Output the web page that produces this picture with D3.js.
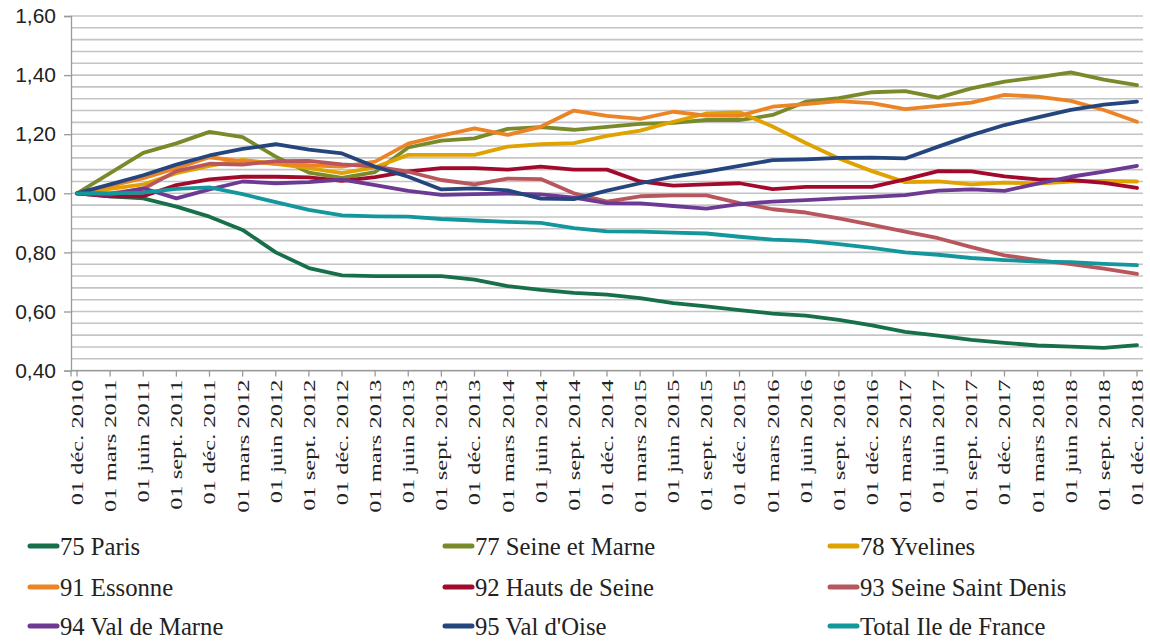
<!DOCTYPE html>
<html>
<head>
<meta charset="utf-8">
<script src="https://cdn.jsdelivr.net/npm/d3@7"></script>
<style>
  body { margin: 0; background: #fff; }
  svg { display: block; }
</style>
</head>
<body>
<div id="chart"></div>
<script>
// quarterly dates, dec 2010 -> dec 2018
const months = ["déc.", "mars", "juin", "sept."];
const dates = [];
for (let i = 0; i < 33; i++) {
    const m = months[i % 4];
    const y = 2010 + Math.floor((i + 3) / 4);
    dates.push("01 " + m + " " + y);
}

const seriesNames = ["75 Paris", "77 Seine et Marne", "78 Yvelines",
    "91 Essonne", "92 Hauts de Seine", "93 Seine Saint Denis",
    "94 Val de Marne", "95 Val d'Oise", "Total Ile de France"];
const seriesColors = ["#17704a", "#798a2b", "#dfa200", "#ec8425", "#a20a2d",
    "#b8565e", "#6c3a93", "#25457e", "#13979c"];

const paris = [1.00, 0.99, 0.983, 0.955, 0.921, 0.876, 0.80, 0.747, 0.722, 0.72, 0.72, 0.72, 0.708, 0.686, 0.673, 0.663, 0.657, 0.645, 0.628, 0.617, 0.605, 0.593, 0.586, 0.572, 0.553, 0.531, 0.518, 0.504, 0.494, 0.485, 0.481, 0.477, 0.486];
const seineMarne = [1.00, 1.068, 1.137, 1.169, 1.208, 1.19, 1.124, 1.07, 1.052, 1.072, 1.155, 1.178, 1.186, 1.218, 1.224, 1.215, 1.225, 1.235, 1.238, 1.248, 1.248, 1.265, 1.31, 1.322, 1.342, 1.346, 1.324, 1.355, 1.378, 1.392, 1.409, 1.385, 1.366];
const yvelines = [1.00, 1.015, 1.03, 1.068, 1.093, 1.113, 1.10, 1.085, 1.068, 1.088, 1.13, 1.13, 1.13, 1.158, 1.166, 1.17, 1.194, 1.212, 1.242, 1.27, 1.274, 1.226, 1.17, 1.118, 1.075, 1.038, 1.04, 1.03, 1.036, 1.033, 1.04, 1.042, 1.04];
const essonne = [1.00, 1.025, 1.051, 1.085, 1.122, 1.108, 1.10, 1.095, 1.09, 1.107, 1.168, 1.195, 1.22, 1.198, 1.225, 1.28, 1.262, 1.252, 1.276, 1.263, 1.262, 1.293, 1.302, 1.312, 1.305, 1.285, 1.296, 1.307, 1.333, 1.327, 1.313, 1.282, 1.242];
const hautsSeine = [1.00, 0.99, 0.99, 1.028, 1.047, 1.056, 1.056, 1.054, 1.042, 1.055, 1.074, 1.085, 1.085, 1.08, 1.09, 1.08, 1.08, 1.04, 1.026, 1.03, 1.034, 1.014, 1.022, 1.022, 1.022, 1.047, 1.075, 1.074, 1.057, 1.047, 1.045, 1.035, 1.018];
const seineStDenis = [1.00, 1.00, 1.015, 1.075, 1.10, 1.097, 1.109, 1.11, 1.098, 1.09, 1.073, 1.045, 1.03, 1.05, 1.048, 1.0, 0.972, 0.99, 0.993, 0.993, 0.967, 0.946, 0.935, 0.915, 0.893, 0.87, 0.848, 0.818, 0.79, 0.774, 0.76, 0.745, 0.727];
const valMarne = [1.00, 0.995, 1.017, 0.983, 1.013, 1.04, 1.034, 1.038, 1.046, 1.028, 1.008, 0.995, 0.997, 0.999, 0.996, 0.985, 0.967, 0.966, 0.957, 0.948, 0.963, 0.972, 0.977, 0.983, 0.988, 0.994, 1.009, 1.013, 1.008, 1.033, 1.056, 1.073, 1.093];
const valOise = [1.00, 1.03, 1.061, 1.097, 1.128, 1.15, 1.166, 1.148, 1.135, 1.09, 1.056, 1.013, 1.017, 1.01, 0.982, 0.98, 1.009, 1.034, 1.056, 1.073, 1.093, 1.112, 1.115, 1.12, 1.121, 1.118, 1.158, 1.197, 1.231, 1.257, 1.282, 1.30, 1.31];
const totalIdf = [1.00, 1.0, 1.002, 1.015, 1.02, 0.997, 0.97, 0.944, 0.925, 0.922, 0.921, 0.913, 0.908, 0.903, 0.9, 0.882, 0.871, 0.87, 0.867, 0.864, 0.853, 0.843, 0.839, 0.828, 0.815, 0.80, 0.792, 0.781, 0.774, 0.769, 0.767, 0.761, 0.757];

const allSeries = [paris, seineMarne, yvelines, essonne, hautsSeine,
    seineStDenis, valMarne, valOise, totalIdf];

const yMin = 0.40, yMax = 1.60;
const gridStep = 0.04, labelStep = 0.20;

const width = 1150, height = 641;
const axisX = 71, plotRight = 1143, plotTop = 16, plotBottom = 370.6;

const svg = d3.select("#chart").append("svg")
    .attr("width", width)
    .attr("height", height);

const x = d3.scalePoint()
    .domain(dates)
    .range([77, 1137]);

const y = d3.scaleLinear()
    .domain([yMin, yMax])
    .range([plotBottom, plotTop]);

// gridlines
const gridVals = d3.range(0, Math.round((yMax - yMin) / gridStep) + 1).map(i => yMin + i * gridStep);
svg.append("g").selectAll("line").data(gridVals).enter().append("line")
    .attr("x1", axisX).attr("x2", plotRight)
    .attr("y1", d => y(d)).attr("y2", d => y(d))
    .attr("stroke", "#c4c4c4")
    .attr("stroke-width", 1.6);

// y axis
const labelVals = d3.range(0, Math.round((yMax - yMin) / labelStep) + 1).map(i => yMin + i * labelStep);
const yAxis = d3.axisLeft(y)
    .tickValues(labelVals)
    .tickSize(7)
    .tickPadding(8)
    .tickFormat(d => d3.format(".2f")(d).replace(".", ","));
const gy = svg.append("g")
    .attr("transform", `translate(${axisX},0)`)
    .call(yAxis);
gy.select(".domain").attr("stroke", "#9a9a9a").attr("stroke-width", 1.3);
gy.selectAll(".tick line").attr("stroke", "#9a9a9a").attr("stroke-width", 1.3);
gy.selectAll(".tick text")
    .attr("font-family", "'Liberation Sans', Arial, sans-serif")
    .attr("font-size", 21)
    .attr("fill", "#222");

// x axis line + ticks
svg.append("line")
    .attr("x1", axisX).attr("x2", plotRight)
    .attr("y1", plotBottom).attr("y2", plotBottom)
    .attr("stroke", "#9a9a9a").attr("stroke-width", 1.3);
svg.append("g").selectAll("line").data(dates).enter().append("line")
    .attr("x1", d => x(d)).attr("x2", d => x(d))
    .attr("y1", plotBottom).attr("y2", plotBottom + 6)
    .attr("stroke", "#9a9a9a").attr("stroke-width", 1.3);
svg.append("line")
    .attr("x1", axisX).attr("x2", axisX)
    .attr("y1", plotBottom).attr("y2", plotBottom + 6)
    .attr("stroke", "#9a9a9a").attr("stroke-width", 1.3);

svg.append("g").selectAll("text").data(dates).enter().append("text")
    .attr("transform", d => `translate(${x(d)},${plotBottom + 9}) rotate(-90) scale(1.44,1)`)
    .attr("text-anchor", "end")
    .attr("dy", "0.35em")
    .attr("font-family", "'Liberation Serif', 'Times New Roman', serif")
    .attr("font-size", 17)
    .attr("fill", "#222")
    .text(d => d);

// lines
const line = d3.line()
    .x((d, i) => x(dates[i]))
    .y(d => y(d));

svg.append("g").selectAll("path").data(allSeries).enter().append("path")
    .attr("d", d => line(d))
    .attr("fill", "none")
    .attr("stroke", (d, i) => seriesColors[i])
    .attr("stroke-width", 3.8)
    .attr("stroke-linejoin", "round")
    .attr("stroke-linecap", "round");

// legend
const legCols = [30, 445, 830];
const legRows = [546, 587, 626];
const legend = svg.append("g").selectAll("g").data(seriesNames).enter().append("g")
    .attr("transform", (d, i) => `translate(${legCols[i % 3]},${legRows[Math.floor(i / 3)]})`);
legend.append("line")
    .attr("x1", 0).attr("x2", 27)
    .attr("y1", 0).attr("y2", 0)
    .attr("stroke", (d, i) => seriesColors[i])
    .attr("stroke-width", 5)
    .attr("stroke-linecap", "round");
legend.append("text")
    .attr("transform", "translate(30,0) scale(0.95,1)")
    .attr("dy", "0.35em")
    .attr("font-family", "'Liberation Serif', 'Times New Roman', serif")
    .attr("font-size", 26)
    .attr("fill", "#222")
    .text(d => d);
</script>
</body>
</html>
